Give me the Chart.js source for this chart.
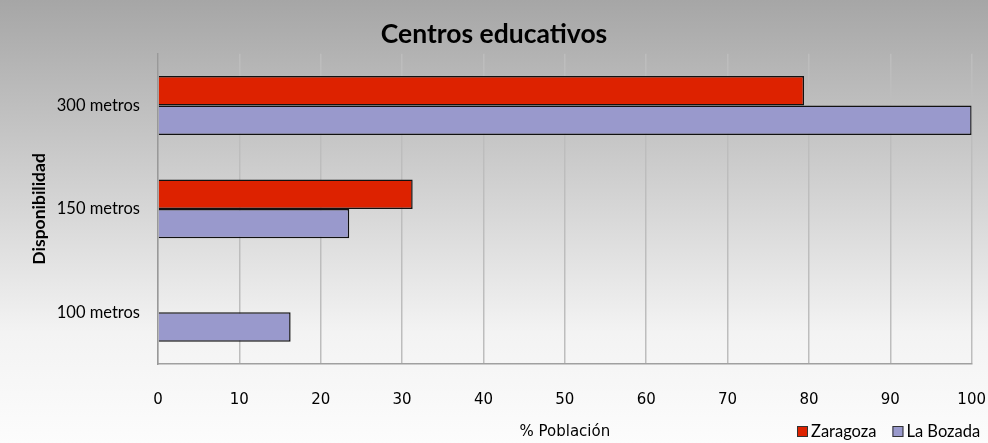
<!DOCTYPE html>
<html>
<head>
<meta charset="utf-8">
<script src="https://cdn.jsdelivr.net/npm/chart.js@4.4.0/dist/chart.umd.min.js"></script>
<style>
  html, body { margin: 0; padding: 0; }
  #wrap {
    width: 988px; height: 443px;
    background: linear-gradient(to bottom, #a6a6a6 0%, #d4d4d4 45%, #f3f3f3 75%, #fcfcfc 100%);
  }
</style>
</head>
<body>
<div id="wrap"><canvas id="myChart" width="988" height="443"></canvas></div>
<script>
const categories = ["300 metros", "150 metros", "100 metros"];
const zaragoza = [79.4, 31.3, 0];
const laBozada = [100, 23.5, 16.3];
const seriesNames = ["Zaragoza", "La Bozada"];
const seriesColors = ["#dd2200", "#9999cc"];
const xTicks = [0, 10, 20, 30, 40, 50, 60, 70, 80, 90, 100];

const ctx = document.getElementById("myChart");

// legend on the same line as the x title, drawn by hand
const sideLegend = {
  id: "sideLegend",
  afterDraw(chart) {
    const c = chart.ctx;
    c.save();
    c.font = "16.5px Lato";
    c.textBaseline = "middle";
    let x = 797;
    const y = 432;
    chart.data.datasets.forEach((ds) => {
      c.fillStyle = ds.backgroundColor;
      c.fillRect(x, y - 6, 11, 11);
      c.strokeStyle = "#333";
      c.lineWidth = 1;
      c.strokeRect(x + 0.5, y - 5.5, 10, 10);
      c.fillStyle = "#000";
      c.fillText(ds.label, x + 14, y);
      x += c.measureText(ds.label).width + 14 + 16;
    });
    c.restore();
  },
};

new Chart(ctx, {
  type: "bar",
  data: {
    labels: categories,
    datasets: [
      {
        label: seriesNames[0],
        data: zaragoza,
        backgroundColor: seriesColors[0],
        borderColor: "#111",
        borderWidth: 1.5,
        borderSkipped: "left",
      },
      {
        label: seriesNames[1],
        data: laBozada,
        backgroundColor: seriesColors[1],
        borderColor: "#111",
        borderWidth: 1.5,
        borderSkipped: "left",
      },
    ],
  },
  options: {
    indexAxis: "y",
    responsive: false,
    animation: false,
    barPercentage: 1,
    categoryPercentage: 0.57,
    layout: { padding: { left: 0, right: 0, top: 0, bottom: 2 } },
    plugins: {
      legend: { display: false },
      tooltip: { enabled: false },
      title: {
        display: true,
        text: "Centros educativos",
        color: "#000",
        font: { family: "Lato", size: 26.5, weight: "bold" },
        padding: { top: 19, bottom: 3 },
      },
    },
    scales: {
      x: {
        min: 0,
        max: 100,
        afterBuildTicks: (axis) => {
          axis.ticks = xTicks.map((v) => ({ value: v }));
        },
        grid: {
          color: "#bdbdbd",
          lineWidth: 1.5,
          tickLength: 25,
          tickColor: "rgba(0,0,0,0)",
        },
        border: { color: "#a0a0a0", width: 1.5 },
        ticks: {
          color: "#000",
          padding: 2,
          maxRotation: 0,
          font: { family: "DejaVu Sans", size: 15 },
        },
        title: {
          display: true,
          text: "% Población",
          color: "#000",
          font: { family: "DejaVu Sans", size: 15 },
          padding: { top: 12, bottom: 0 },
        },
      },
      y: {
        afterFit: (scale) => {
          scale.width = 158;
        },
        grid: { display: false, drawTicks: false },
        border: { color: "#999", width: 1.5 },
        ticks: {
          color: "#000",
          padding: 18,
          font: { family: "Lato", size: 16.5 },
        },
        title: {
          display: true,
          text: "Disponibilidad",
          color: "#000",
          font: { family: "Lato", size: 17.5, weight: "bold" },
          padding: { top: 29, bottom: 0 },
        },
      },
    },
  },
  plugins: [sideLegend],
});
</script>
</body>
</html>
